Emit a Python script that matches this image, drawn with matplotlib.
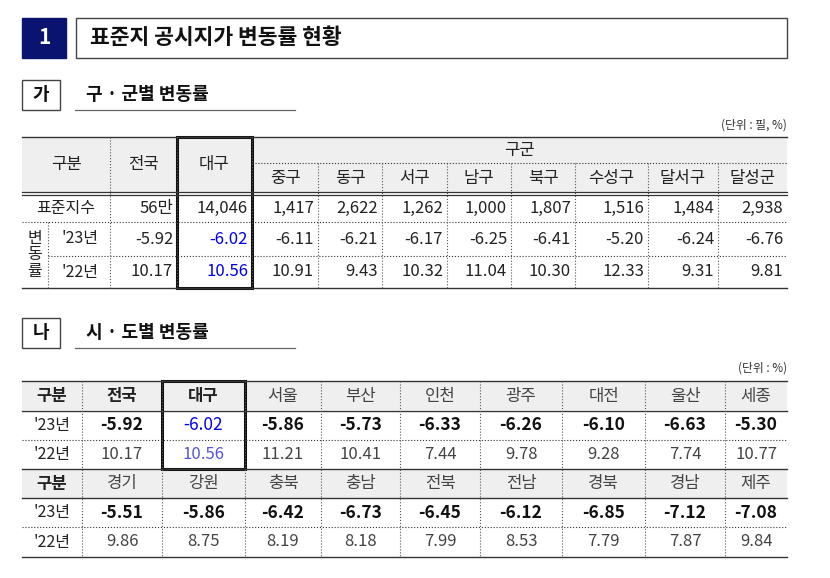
import matplotlib
matplotlib.use("Agg")
import matplotlib.pyplot as plt
from matplotlib.patches import Rectangle

plt.rcParams['font.family'] = ['Noto Sans CJK KR', 'DejaVu Sans']

# table 1 data
gu_names = ["중구", "동구", "서구", "남구", "북구", "수성구", "달서구", "달성군"]
t1_count = ["56만", "14,046", "1,417", "2,622", "1,262", "1,000", "1,807", "1,516", "1,484", "2,938"]
t1_23 = ["-5.92", "-6.02", "-6.11", "-6.21", "-6.17", "-6.25", "-6.41", "-5.20", "-6.24", "-6.76"]
t1_22 = ["10.17", "10.56", "10.91", "9.43", "10.32", "11.04", "10.30", "12.33", "9.31", "9.81"]

# table 2 data
regions_a = ["전국", "대구", "서울", "부산", "인천", "광주", "대전", "울산", "세종"]
rate23_a = ["-5.92", "-6.02", "-5.86", "-5.73", "-6.33", "-6.26", "-6.10", "-6.63", "-5.30"]
rate22_a = ["10.17", "10.56", "11.21", "10.41", "7.44", "9.78", "9.28", "7.74", "10.77"]
regions_b = ["경기", "강원", "충북", "충남", "전북", "전남", "경북", "경남", "제주"]
rate23_b = ["-5.51", "-5.86", "-6.42", "-6.73", "-6.45", "-6.12", "-6.85", "-7.12", "-7.08"]
rate22_b = ["9.86", "8.75", "8.19", "8.18", "7.99", "8.53", "7.79", "7.87", "9.84"]

fig = plt.figure(figsize=(8.3, 5.78), dpi=100)
ax = fig.add_axes([0, 0, 1, 1])
ax.set_xlim(0, 830)
ax.set_ylim(578, 0)
ax.axis("off")

GRAY = "#efefef"
BLUE = "#0000ee"
LBLUE = "#5555dd"
TXT = "#222222"

def hline(y, x0, x1, lw=1.0, ls="-", c="#333333"):
    ax.plot([x0, x1], [y, y], color=c, lw=lw, ls=ls)

def vline(x, y0, y1, lw=0.8, ls=":", c="#555555"):
    ax.plot([x, x], [y0, y1], color=c, lw=lw, ls=ls)

def txt(x, y, s, size=11, ha="center", color=TXT, weight="normal"):
    ax.text(x, y, s, fontsize=size, ha=ha, va="center", color=color, weight=weight)

# title
ax.add_patch(Rectangle((22, 18), 44, 40, fc="#0a1470", ec="#0a1470"))
txt(44, 38, "1", 15, color="white", weight="bold")
ax.add_patch(Rectangle((76, 18), 711, 40, fc="white", ec="#444444", lw=1))
txt(90, 38, "표준지 공시지가 변동률 현황", 15.5, ha="left", color="#111111", weight="bold")

# section headings
for y0, mark, title in [(80, "가", "구 · 군별 변동률"), (318, "나", "시 · 도별 변동률")]:
    ax.add_patch(Rectangle((22, y0), 38, 30, fc="white", ec="#444444", lw=1))
    txt(41, y0 + 15, mark, 13, color="#111111", weight="bold")
    txt(86, y0 + 15, title, 13, ha="left", color="#111111", weight="bold")
    hline(y0 + 30, 75, 295, lw=0.9, c="#666666")

# ---------- table 1 ----------
txt(787, 125, "(단위 : 필, %)", 8.5, ha="right", color="#333333")
cols1 = [22, 110, 177, 252, 318, 382, 447, 511, 575, 648, 718, 787]
top, h1, h2, r1, r2, bot = 137, 163, 193, 222, 256, 288
ax.add_patch(Rectangle((22, top), 765, h2 - top, fc=GRAY, ec="none"))
hline(top, 22, 787, 1.0)
hline(h2 - 1.5, 22, 787, 0.9)
hline(h2 + 1.5, 22, 787, 0.9)
hline(r1, 22, 787, 0.8, ":")
hline(r2, 48, 787, 0.8, ":")
hline(bot, 22, 787, 1.0)
hline(h1, 252, 787, 0.8, ":")
for x in cols1[1:4]:
    vline(x, top, bot)
for x in cols1[4:-1]:
    vline(x, h1, bot)
vline(48, r1, bot)
txt(66, 164, "구분", 12)
txt(143, 164, "전국", 12)
txt(214, 164, "대구", 12)
txt(519, 150, "구군", 12)
for i, n in enumerate(gu_names):
    txt((cols1[i + 3] + cols1[i + 4]) / 2, 179, n, 12)
txt(66, 208, "표준지수", 11.5)
ax.text(35, 255, "변\n동\n률", fontsize=11.5, ha="center", va="center", color=TXT, linespacing=0.95)
txt(80, 239, "'23년", 11.5)
txt(80, 272, "'22년", 11.5)
for row, y in [(t1_count, 208), (t1_23, 239), (t1_22, 272)]:
    for i, v in enumerate(row):
        c = BLUE if i == 1 and y > 220 else TXT
        txt(cols1[i + 2] - 4, y, v, 12, ha="right", color=c)
ax.add_patch(Rectangle((177, top), 75, bot - top, fc="none", ec="#111111", lw=2.2))

# ---------- table 2 ----------
txt(787, 368, "(단위 : %)", 8.5, ha="right", color="#333333")
cols2 = [22, 82, 162, 245, 321, 400, 480, 562, 645, 725, 787]
ys = [381, 411, 440, 469, 498, 527, 557]
for yh in (ys[0], ys[3]):
    ax.add_patch(Rectangle((22, yh), 765, 29, fc=GRAY, ec="none"))
hline(ys[0], 22, 787, 1.0)
hline(ys[1], 22, 787, 1.0)
hline(ys[2], 22, 787, 0.8, ":")
hline(ys[3], 22, 787, 1.0)
hline(ys[4], 22, 787, 1.0)
hline(ys[5], 22, 787, 0.8, ":")
hline(ys[6], 22, 787, 1.0)
for x in cols2[1:-1]:
    vline(x, ys[0], ys[6])

blocks = [(regions_a, rate23_a, rate22_a, 0), (regions_b, rate23_b, rate22_b, 3)]
for names, r23, r22, k in blocks:
    yh, ya, yb = [(ys[k + j] + ys[k + j + 1]) / 2 for j in range(3)]
    txt(52, yh, "구분", 12, weight="bold")
    txt(52, ya, "'23년", 11.5)
    txt(52, yb, "'22년", 11.5)
    for i in range(9):
        cx = (cols2[i + 1] + cols2[i + 2]) / 2
        bold_head = k == 0 and i < 2
        txt(cx, yh, names[i], 12, weight="bold" if bold_head else "normal",
            color=TXT if bold_head else "#444444")
        c23 = BLUE if (k == 0 and i == 1) else "#111111"
        c22 = LBLUE if (k == 0 and i == 1) else "#444444"
        txt(cx, ya, r23[i], 12.5, color=c23, weight="bold" if c23 != BLUE else "normal")
        txt(cx, yb, r22[i], 12, color=c22)
ax.add_patch(Rectangle((162, ys[0]), 83, ys[3] - ys[0], fc="none", ec="#111111", lw=2.2))

fig.savefig("out.png", dpi=100)
